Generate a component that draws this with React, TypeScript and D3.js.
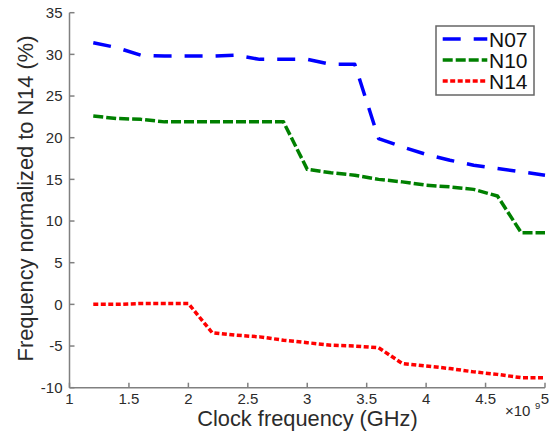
import React from 'react';
import * as d3 from 'd3';

// clock frequency in GHz (axis shows x10^9 Hz)
const freqs = [1.2, 1.4, 1.6, 1.8, 2.0, 2.2, 2.4, 2.6, 2.8, 3.0, 3.2, 3.4, 3.6, 3.8, 4.0, 4.2, 4.4, 4.6, 4.8, 5.0];
const n07 = [31.4, 30.8, 29.9, 29.8, 29.8, 29.8, 29.9, 29.4, 29.4, 29.4, 28.8, 28.8, 19.9, 18.9, 18.0, 17.3, 16.7, 16.3, 15.9, 15.5];
const n10 = [22.6, 22.3, 22.2, 21.9, 21.9, 21.9, 21.9, 21.9, 21.9, 16.2, 15.8, 15.5, 15.0, 14.7, 14.3, 14.1, 13.8, 13.0, 8.6, 8.6];
const n14 = [0, 0, 0.1, 0.1, 0.1, -3.4, -3.7, -3.9, -4.3, -4.6, -4.9, -5.0, -5.2, -7.1, -7.4, -7.7, -8.1, -8.4, -8.8, -8.8];

const xTicks = [1, 1.5, 2, 2.5, 3, 3.5, 4, 4.5, 5];
const yTicks = [-10, -5, 0, 5, 10, 15, 20, 25, 30, 35];

const series = [
  { name: 'N07', values: n07, color: '#0000ff', dash: '18,13' },
  { name: 'N10', values: n10, color: '#008000', dash: '10,3' },
  { name: 'N14', values: n14, color: '#ff0000', dash: '5,2.5' },
];

const W = 559;
const H = 434;
const FONT = '"Liberation Sans", Arial, Helvetica, sans-serif';

export default function App() {
  const x = d3.scaleLinear().domain([1, 5]).range([69.5, 545]);
  const y = d3.scaleLinear().domain([-10, 35]).range([387.7, 12.7]);

  const line = d3.line<[number, number]>()
    .x(d => x(d[0]))
    .y(d => y(d[1]));

  const axisColor = '#808080';
  const textColor = '#2b2b2b';

  // legend layout
  const lgX = 436, lgY = 26, lgW = 98, lgH = 69;

  return (
    <div style={{ position: 'fixed', left: 0, top: 0 }}>
      <svg width={W} height={H} style={{ display: 'block', background: '#fff' }}>
        {/* axes lines */}
        <line x1={x(1)} x2={x(1)} y1={y(35)} y2={y(-10)} stroke={axisColor} strokeWidth={1.5} />
        <line x1={x(1)} x2={x(5)} y1={y(-10)} y2={y(-10)} stroke={axisColor} strokeWidth={1.5} />

        {/* y ticks */}
        {yTicks.map(t => (
          <g key={'y' + t}>
            <line x1={x(1)} x2={x(1) + 5} y1={y(t)} y2={y(t)} stroke={axisColor} strokeWidth={1.5} />
            <text x={62.5} y={y(t)} dy="0.35em" textAnchor="end" fontSize={15} fontFamily={FONT} fill={textColor}>
              {t}
            </text>
          </g>
        ))}

        {/* x ticks */}
        {xTicks.map(t => (
          <g key={'x' + t}>
            <line x1={x(t)} x2={x(t)} y1={y(-10)} y2={y(-10) - 5} stroke={axisColor} strokeWidth={1.5} />
            <text x={x(t)} y={403.5} textAnchor="middle" fontSize={15} fontFamily={FONT} fill={textColor}>
              {t}
            </text>
          </g>
        ))}

        {/* exponent */}
        <text x={505} y={415.5} fontSize={15} fontFamily={FONT} fill={textColor}>
          ×10
        </text>
        <text x={535} y={409} fontSize={9.5} fontFamily={FONT} fill={textColor}>
          9
        </text>

        {/* axis labels */}
        <text x={307.5} y={426} textAnchor="middle" fontSize={21.8} fontFamily={FONT} fill={textColor}>
          Clock frequency (GHz)
        </text>
        <text
          transform={`translate(33,198.5) rotate(-90)`}
          textAnchor="middle"
          fontSize={21.8}
          fontFamily={FONT}
          fill={textColor}
        >
          Frequency normalized to N14 (%)
        </text>

        {/* series */}
        {series.map(s => (
          <path
            key={s.name}
            d={line(freqs.map((f, i) => [f, s.values[i]] as [number, number])) || ''}
            fill="none"
            stroke={s.color}
            strokeWidth={3.5}
            strokeDasharray={s.dash}
            strokeLinejoin="round"
          />
        ))}

        {/* legend */}
        <rect x={lgX} y={lgY} width={lgW} height={lgH} fill="#fff" stroke="#666" strokeWidth={1.5} />
        {series.map((s, i) => {
          const cy = 39 + i * 21;
          return (
            <g key={'lg' + s.name}>
              <line x1={442.7} x2={487.3} y1={cy} y2={cy} stroke={s.color} strokeWidth={3.5} strokeDasharray={s.dash} />
              <text x={489} y={cy} dy="0.36em" fontSize={21} fontFamily={FONT} fill="#111">
                {s.name}
              </text>
            </g>
          );
        })}
      </svg>
    </div>
  );
}
